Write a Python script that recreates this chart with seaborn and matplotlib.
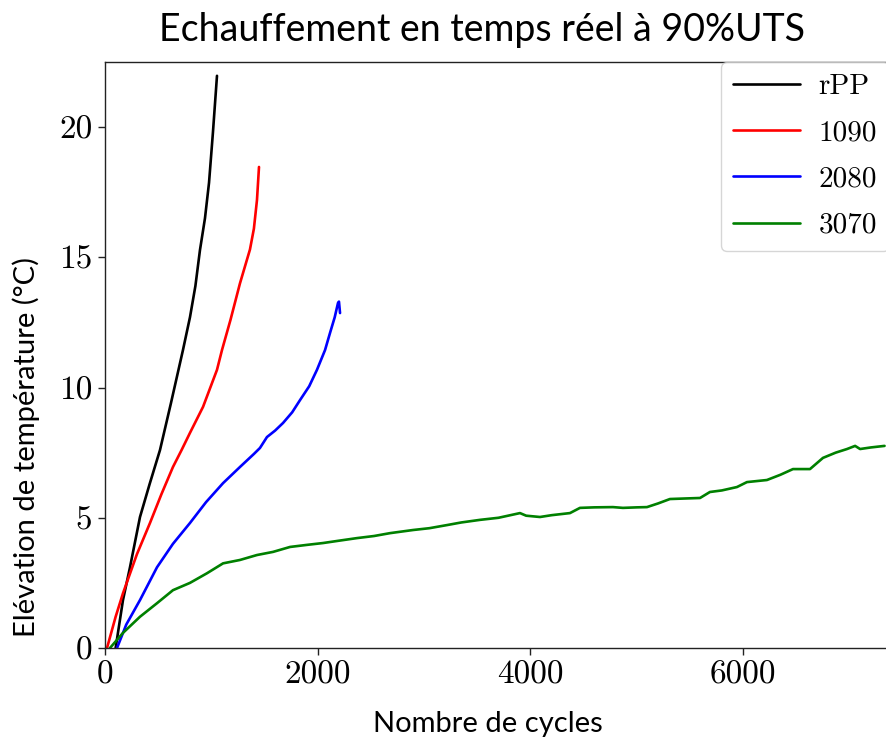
import numpy as np
import pandas as pd
import matplotlib
matplotlib.use("Agg")
import matplotlib.pyplot as plt
import seaborn as sns
from matplotlib.lines import Line2D

# ---- data ----
rpp_x = [100, 169, 235, 329, 420, 517, 620, 733, 799, 850, 893, 940, 978, 1015, 1053]
rpp_y = [0.0, 1.84, 3.1, 5.03, 6.3, 7.6, 9.4, 11.44, 12.7, 13.9, 15.28, 16.5, 17.86, 19.8, 21.97]

s1090_x = [19, 100, 169, 300, 423, 530, 639, 720, 799, 922, 1053, 1100, 1180, 1269, 1363, 1400, 1429, 1448]
s1090_y = [0.0, 1.2, 2.1, 3.6, 4.8, 5.9, 6.95, 7.6, 8.26, 9.26, 10.68, 11.44, 12.6, 14.0, 15.3, 16.1, 17.2, 18.47]

s2080_x = [113, 200, 329, 489, 639, 799, 950, 1110, 1269, 1400, 1457, 1523, 1600, 1674, 1760, 1834, 1920, 1993, 2069, 2116, 2160, 2191, 2200, 2210]
s2080_y = [0.0, 0.9, 1.84, 3.1, 4.0, 4.8, 5.6, 6.33, 6.95, 7.45, 7.68, 8.1, 8.35, 8.64, 9.05, 9.52, 10.05, 10.68, 11.44, 12.1, 12.7, 13.25, 13.3, 12.86]

s3070_x = [47, 169, 329, 489, 639, 799, 959, 1110, 1269, 1429, 1580, 1740, 1900, 2050, 2200, 2370, 2530, 2680,
           2896, 3050, 3216, 3350, 3526, 3700, 3902, 3960, 4090, 4200, 4372, 4466, 4600, 4776, 4870, 5000, 5096,
           5200, 5312, 5450, 5595, 5688, 5800, 5942, 6036, 6224, 6350, 6469, 6629, 6751, 6870, 6977, 7053, 7100,
           7200, 7330]
s3070_y = [0.0, 0.58, 1.2, 1.72, 2.22, 2.5, 2.87, 3.25, 3.38, 3.57, 3.69, 3.88, 3.96, 4.03, 4.12, 4.22, 4.3, 4.41,
           4.53, 4.6, 4.72, 4.82, 4.92, 5.0, 5.18, 5.08, 5.03, 5.1, 5.18, 5.38, 5.4, 5.41, 5.38, 5.4, 5.41,
           5.55, 5.72, 5.74, 5.76, 5.99, 6.05, 6.18, 6.37, 6.45, 6.65, 6.87, 6.87, 7.3, 7.5, 7.64, 7.76, 7.64,
           7.7, 7.76]

labels = ["rPP", "1090", "2080", "3070"]
colors = ["black", "red", "blue", "green"]

df = pd.concat([
    pd.DataFrame({"x": rpp_x, "y": rpp_y, "serie": labels[0]}),
    pd.DataFrame({"x": s1090_x, "y": s1090_y, "serie": labels[1]}),
    pd.DataFrame({"x": s2080_x, "y": s2080_y, "serie": labels[2]}),
    pd.DataFrame({"x": s3070_x, "y": s3070_y, "serie": labels[3]}),
], ignore_index=True)

sns.set_style("ticks")
plt.rcParams["font.family"] = ["DejaVu Sans"]
plt.rcParams["text.color"] = "black"
plt.rcParams["axes.labelcolor"] = "black"
plt.rcParams["xtick.color"] = "#222222"
plt.rcParams["ytick.color"] = "#222222"
plt.rcParams["xtick.labelcolor"] = "black"
plt.rcParams["ytick.labelcolor"] = "black"

fig = plt.figure(figsize=(8.87, 7.43), dpi=100)
W, H = 887, 743
ax = fig.add_axes([105 / W, 1 - 648 / H, (892 - 105) / W, (648 - 62) / H])

sns.lineplot(data=df, x="x", y="y", hue="serie", palette=dict(zip(labels, colors)),
             estimator=None, sort=False, lw=1.9, ax=ax, legend=False)

ax.set_xlim(0, 7400)
ax.set_ylim(0, 22.5)
ax.set_xticks([0, 2000, 4000, 6000])
ax.set_yticks([0, 5, 10, 15, 20])
for spine in ax.spines.values():
    spine.set_color("#222222")
    spine.set_linewidth(1.0)
ax.spines["right"].set_visible(False)
ax.tick_params(direction="out", length=5, width=1.0, labelsize=24, pad=4)
for lab in ax.get_xticklabels() + ax.get_yticklabels():
    lab.set_fontfamily("cmr10")

ax.set_xlabel("Nombre de cycles", fontsize=21, fontfamily="Lato", color="black")
ax.set_ylabel("Elévation de température (°C)", fontsize=21, fontfamily="Lato", color="black")
ax.xaxis.set_label_coords((488 - 105) / 787, -(711 - 648) / 586)
ax.yaxis.set_label_coords((40 - 105) / 787, (648 - 447) / 586)

fig.text(482 / W, 1 - 30 / H, "Echauffement en temps réel à 90%UTS", ha="center", va="center",
         fontsize=27, fontfamily="Lato", color="black")

handles = [Line2D([], [], color=c, lw=1.9) for c in colors]
leg = fig.legend(handles, labels, loc="upper left", bbox_to_anchor=(721 / W, 1 - 62 / H),
                 bbox_transform=fig.transFigure, borderaxespad=0, frameon=True, fancybox=True,
                 prop={"family": "cmr10", "size": 21}, handlelength=2.3, handletextpad=0.65,
                 labelspacing=0.68, borderpad=0.4)
leg.get_frame().set_edgecolor("#cccccc")
leg.get_frame().set_linewidth(1.0)

fig.savefig("out.png", dpi=100)
